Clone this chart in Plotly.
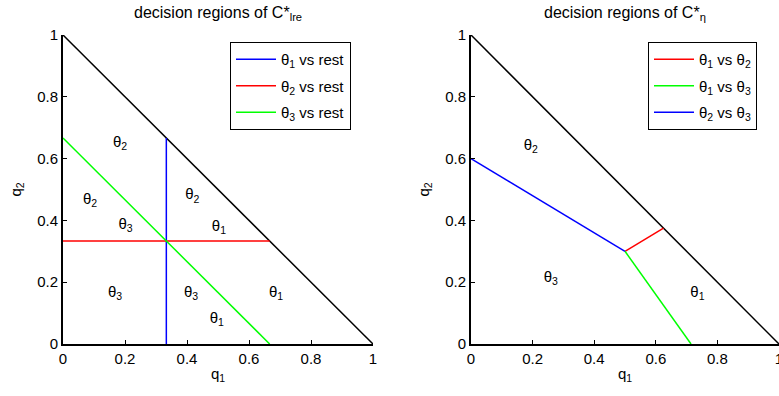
import plotly.graph_objects as go

FONT = "Liberation Sans, Arial, sans-serif"

# simplex boundary
simplex_q1 = [0, 1]
simplex_q2 = [1, 0]

# left panel: one-vs-rest boundaries
lre_names = ["θ<sub>1</sub> vs rest", "θ<sub>2</sub> vs rest", "θ<sub>3</sub> vs rest"]
lre_colors = ["#0000ff", "#ff0000", "#00ff00"]
lre_q1 = [[1/3, 1/3], [0, 2/3], [0, 2/3]]
lre_q2 = [[0, 2/3], [1/3, 1/3], [2/3, 0]]

lre_label_q1 = [0.184, 0.087, 0.202, 0.417, 0.503, 0.168, 0.413, 0.496, 0.687]
lre_label_q2 = [0.65, 0.465, 0.385, 0.48, 0.379, 0.164, 0.164, 0.08, 0.164]
lre_label_txt = ["θ<sub>2</sub>", "θ<sub>2</sub>", "θ<sub>3</sub>", "θ<sub>2</sub>", "θ<sub>1</sub>",
                 "θ<sub>3</sub>", "θ<sub>3</sub>", "θ<sub>1</sub>", "θ<sub>1</sub>"]

# right panel: pairwise boundaries
eta_names = ["θ<sub>1</sub> vs θ<sub>2</sub>", "θ<sub>1</sub> vs θ<sub>3</sub>", "θ<sub>2</sub> vs θ<sub>3</sub>"]
eta_colors = ["#ff0000", "#00ff00", "#0000ff"]
eta_q1 = [[0.5, 0.625], [0.5, 5/7], [0, 0.5]]
eta_q2 = [[0.3, 0.375], [0.3, 0], [0.6, 0.3]]

eta_label_q1 = [0.194, 0.259, 0.735]
eta_label_q2 = [0.64, 0.213, 0.164]
eta_label_txt = ["θ<sub>2</sub>", "θ<sub>3</sub>", "θ<sub>1</sub>"]

ticks = [0, 0.2, 0.4, 0.6, 0.8, 1]
tick_text = ["0", "0.2", "0.4", "0.6", "0.8", "1"]

fig = go.Figure()

# left panel
fig.add_trace(go.Scatter(x=simplex_q1, y=simplex_q2, mode="lines", line=dict(color="black", width=1.5),
                         showlegend=False, xaxis="x", yaxis="y", hoverinfo="skip"))
for i, (n, c, xs, ys) in enumerate(zip(lre_names, lre_colors, lre_q1, lre_q2)):
    fig.add_trace(go.Scatter(x=xs, y=ys, mode="lines", name=n, line=dict(color=c, width=1.5),
                             xaxis="x", yaxis="y", legend="legend", legendgroup=f"l{i}"))
fig.add_trace(go.Scatter(x=lre_label_q1, y=lre_label_q2, text=lre_label_txt, mode="text",
                         textfont=dict(family=FONT, size=15, color="black"),
                         showlegend=False, xaxis="x", yaxis="y"))

# right panel
fig.add_trace(go.Scatter(x=simplex_q1, y=simplex_q2, mode="lines", line=dict(color="black", width=1.5),
                         showlegend=False, xaxis="x2", yaxis="y2", hoverinfo="skip"))
for i, (n, c, xs, ys) in enumerate(zip(eta_names, eta_colors, eta_q1, eta_q2)):
    fig.add_trace(go.Scatter(x=xs, y=ys, mode="lines", name=n, line=dict(color=c, width=1.5),
                             xaxis="x2", yaxis="y2", legend="legend2", legendgroup=f"r{i}"))
fig.add_trace(go.Scatter(x=eta_label_q1, y=eta_label_q2, text=eta_label_txt, mode="text",
                         textfont=dict(family=FONT, size=15, color="black"),
                         showlegend=False, xaxis="x2", yaxis="y2"))

W, H = 779, 396
ydom = [1 - 344 / H, 1 - 35 / H]

def axis(domain, anchor, title, standoff):
    return dict(domain=domain, anchor=anchor, range=[0, 1], tickvals=ticks, ticktext=tick_text,
                showline=True, linecolor="black", linewidth=2, mirror=False,
                ticks="inside", ticklen=4, tickwidth=1, tickcolor="black",
                showgrid=False, zeroline=False, automargin=False, ticklabeloverflow="allow",
                tickfont=dict(family=FONT, size=15, color="black"),
                title=dict(text=title, font=dict(family=FONT, size=15, color="black"), standoff=standoff))

legend_common = dict(bgcolor="white", bordercolor="black", borderwidth=1,
                     font=dict(family=FONT, size=15, color="black"),
                     xanchor="left", yanchor="top", tracegroupgap=4, itemwidth=40)

fig.update_layout(
    width=W, height=H,
    margin=dict(l=0, r=0, t=0, b=0),
    paper_bgcolor="white", plot_bgcolor="white",
    xaxis=axis([63 / W, 373 / W], "y", "q<sub>1</sub>", 2),
    yaxis=axis(ydom, "x", "q<sub>2</sub>", 12),
    xaxis2=axis([471 / W, 1.0], "y2", "q<sub>1</sub>", 2),
    yaxis2=axis(ydom, "x2", "q<sub>2</sub>", 12),
    legend=dict(x=230 / W, y=1 - 42 / H, **legend_common),
    legend2=dict(x=648 / W, y=1 - 42 / H, **legend_common),
    annotations=[
        dict(text="decision regions of C*<sub>lre</sub>", x=218 / W, y=1 - 2 / H, xref="paper", yref="paper",
             xanchor="center", yanchor="top", showarrow=False, font=dict(family=FONT, size=16, color="black")),
        dict(text="decision regions of C*<sub>η</sub>", x=625 / W, y=1 - 2 / H, xref="paper", yref="paper",
             xanchor="center", yanchor="top", showarrow=False, font=dict(family=FONT, size=16, color="black")),
    ],
    showlegend=True,
)

fig.write_html("out.html", config={"displayModeBar": False},
               post_script="document.body.style.margin='0';")
